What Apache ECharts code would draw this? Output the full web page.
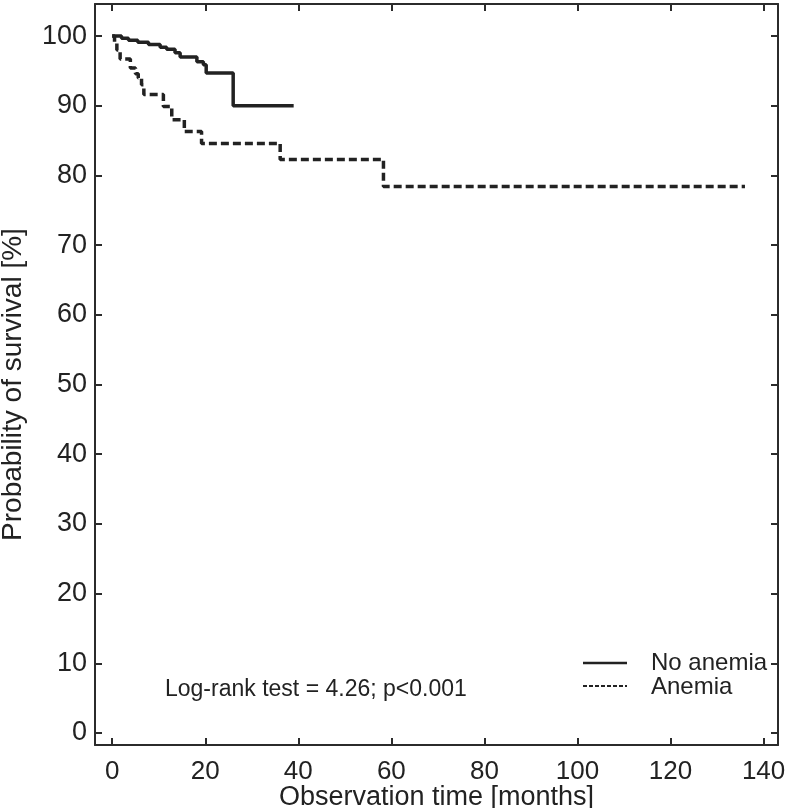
<!DOCTYPE html>
<html>
<head>
<meta charset="utf-8">
<script src="https://cdn.jsdelivr.net/npm/echarts@6/dist/echarts.min.js"></script>
<style>html,body{margin:0;padding:0;background:#fff}#c{width:788px;height:808px}</style>
</head>
<body>
<div id="c"></div>
<script>
// Kaplan-Meier steps: [months, survival %]
const noAnemia = [[0,100],[2,99.7],[3.5,99.4],[5.5,99.1],[7.8,98.8],[10.3,98.4],[11.7,98.1],[13.5,97.6],[14.6,97.0],[18.2,96.3],[19.6,95.9],[20.2,94.7],[26,90.0],[39,90.0]];
const anemia = [[0,100],[0.5,99.0],[1,98.0],[1.7,96.7],[3.9,95.4],[5,94.6],[5.6,94.0],[6.3,93.0],[6.8,91.6],[11,89.9],[12.8,88.0],[15.5,86.3],[19.2,84.6],[36.1,82.3],[58.3,78.4],[136,78.4]];
const xTicks = [0,20,40,60,80,100,120,140];
const yTicks = [0,10,20,30,40,50,60,70,80,90,100];
const seriesNames = ['No anemia','Anemia'];
const annotation = 'Log-rank test = 4.26; p<0.001';

const FONT = '"Liberation Sans", Arial, sans-serif';
const AX = '#2b2b2b';
const axisLine = {show:true, onZero:false, lineStyle:{color:AX, width:2}};
const chart = echarts.init(document.getElementById('c'), null, {renderer:'canvas'});
chart.setOption({
  animation:false,
  backgroundColor:'#fff',
  grid:{left:95, right:10, top:4, bottom:63, containLabel:false, outerBoundsMode:'none'},
  xAxis:[{
    type:'value', min:-3.7, max:143.1, position:'bottom',
    name:'Observation time [months]', nameLocation:'middle', nameGap:39, nameMoveOverlap:false,
    nameTextStyle:{fontFamily:FONT, fontSize:27, color:'#222'},
    axisLine:axisLine,
    axisTick:{show:true, inside:true, length:7, customValues:xTicks, lineStyle:{color:AX, width:2}},
    axisLabel:{customValues:xTicks, fontFamily:FONT, fontSize:26, color:'#222', margin:14},
    splitLine:{show:false}
  },{
    type:'value', min:-3.7, max:143.1, position:'top',
    axisLine:axisLine,
    axisTick:{show:true, inside:true, length:7, customValues:xTicks, lineStyle:{color:AX, width:2}},
    axisLabel:{show:false}, splitLine:{show:false}
  }],
  yAxis:[{
    type:'value', min:-1.72, max:104.6, position:'left',
    name:'Probability of survival [%]', nameLocation:'middle', nameGap:68, nameMoveOverlap:false,
    nameTextStyle:{fontFamily:FONT, fontSize:28, color:'#222', padding:[0,20,0,0]},
    axisLine:axisLine,
    axisTick:{show:true, inside:true, length:7, customValues:yTicks, lineStyle:{color:AX, width:2}},
    axisLabel:{customValues:yTicks, fontFamily:FONT, fontSize:27, color:'#222', margin:8},
    splitLine:{show:false}
  },{
    type:'value', min:-1.72, max:104.6, position:'right',
    axisLine:axisLine,
    axisTick:{show:true, inside:true, length:7, customValues:yTicks, lineStyle:{color:AX, width:2}},
    axisLabel:{show:false}, splitLine:{show:false}
  }],
  series:[{
    name:seriesNames[0], type:'line', step:'end', data:noAnemia, symbol:'none',
    lineStyle:{color:'#222', width:3.5, type:'solid'}
  },{
    name:seriesNames[1], type:'line', step:'end', data:anemia, symbol:'none',
    lineStyle:{color:'#222', width:3.5, type:[8,4]}
  }],
  graphic:[
    {type:'text', left:165, top:678, style:{text:annotation, font:'23px '+FONT, fill:'#222'}},
    {type:'line', shape:{x1:583, y1:663, x2:627, y2:663}, style:{stroke:'#222', lineWidth:2.5}},
    {type:'line', shape:{x1:583, y1:686, x2:627, y2:686}, style:{stroke:'#222', lineWidth:2, lineDash:[4,2]}},
    {type:'text', left:651, top:651, style:{text:seriesNames[0], font:'24px '+FONT, fill:'#222'}},
    {type:'text', left:651, top:675, style:{text:seriesNames[1], font:'24px '+FONT, fill:'#222'}}
  ]
});
</script>
</body>
</html>
